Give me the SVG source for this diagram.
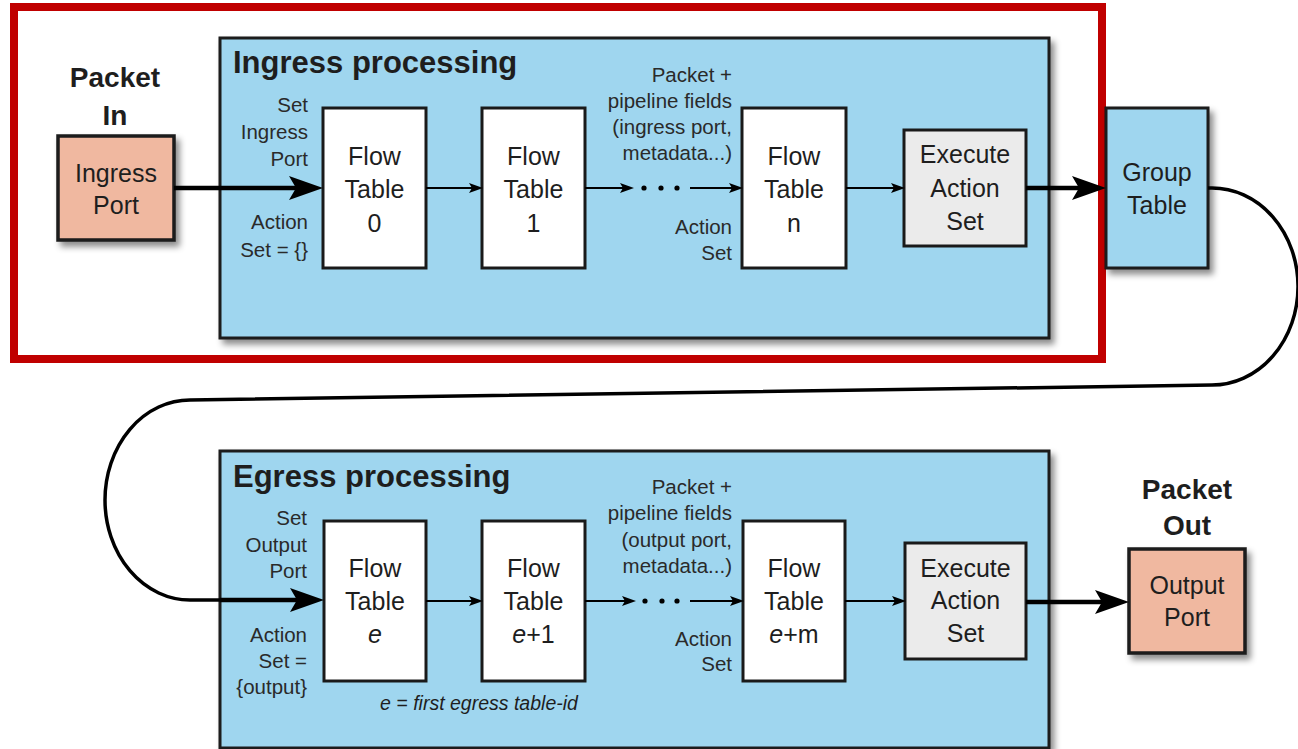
<svg xmlns="http://www.w3.org/2000/svg" width="1298" height="749" viewBox="0 0 1298 749">
<style>
.t{font-family:"Liberation Sans",Arial,sans-serif;fill:#1e1e1e}
.box{font-size:25px;text-anchor:middle}
.lab{font-size:20.5px;text-anchor:end;fill:#2a2a2a}
.title{font-size:31px;font-weight:bold}
.big{font-size:28px;font-weight:bold;text-anchor:middle}
.blue{fill:#9fd6ef;stroke:#1a1a1a;stroke-width:3}
.white{fill:#ffffff;stroke:#1a1a1a;stroke-width:3}
.gray{fill:#ebebeb;stroke:#1a1a1a;stroke-width:3}
.port{fill:#f0b8a0;stroke:#1a1a1a;stroke-width:3.5}
.thick{fill:none;stroke:#000;stroke-width:4.5}
.thin{fill:none;stroke:#000;stroke-width:2}
.curve{fill:none;stroke:#000;stroke-width:3.5}
</style>
<defs>
<filter id="sh" x="-10%" y="-10%" width="130%" height="130%">
<feDropShadow dx="4" dy="5" stdDeviation="3" flood-color="#000" flood-opacity="0.45"/>
</filter>
<marker id="big" markerUnits="userSpaceOnUse" viewBox="0 0 34 26" refX="14" refY="13" markerWidth="34" markerHeight="26" orient="auto">
<path d="M0,1 L34,13 L0,25 L7,13 z" fill="#000"/>
</marker>
<marker id="small" markerUnits="userSpaceOnUse" viewBox="0 0 14 10" refX="5" refY="5" markerWidth="14" markerHeight="10" orient="auto">
<path d="M0,0 L14,5 L0,10 L3,5 z" fill="#000"/>
</marker>
</defs>
<rect x="0" y="0" width="1298" height="749" fill="#fff"/>

<!-- red highlight frame -->
<rect id="highlight" x="14" y="7" width="1088" height="352" fill="none" stroke="#c00000" stroke-width="8"/>

<!-- Ingress processing container -->
<g id="ingress">
<rect class="blue" x="220" y="38" width="829" height="300" filter="url(#sh)"/>
<text class="t title" x="233" y="73">Ingress processing</text>
<text class="t lab" x="308" y="112">Set</text>
<text class="t lab" x="308" y="139">Ingress</text>
<text class="t lab" x="308" y="166">Port</text>
<text class="t lab" x="308" y="229">Action</text>
<text class="t lab" x="308" y="257">Set = {}</text>
<text class="t lab" x="732" y="82">Packet +</text>
<text class="t lab" x="732" y="108">pipeline fields</text>
<text class="t lab" x="732" y="134">(ingress port,</text>
<text class="t lab" x="732" y="160">metadata...)</text>
<text class="t lab" x="732" y="234">Action</text>
<text class="t lab" x="732" y="260">Set</text>
</g>

<!-- Egress processing container -->
<g id="egress">
<rect class="blue" x="220" y="451" width="829" height="297" filter="url(#sh)"/>
<text class="t title" x="233" y="487">Egress processing</text>
<text class="t lab" x="307" y="525">Set</text>
<text class="t lab" x="307" y="552">Output</text>
<text class="t lab" x="307" y="578">Port</text>
<text class="t lab" x="307" y="642">Action</text>
<text class="t lab" x="307" y="668">Set =</text>
<text class="t lab" x="307" y="694">{output}</text>
<text class="t lab" x="732" y="494">Packet +</text>
<text class="t lab" x="732" y="520">pipeline fields</text>
<text class="t lab" x="732" y="547">(output port,</text>
<text class="t lab" x="732" y="573">metadata...)</text>
<text class="t lab" x="732" y="646">Action</text>
<text class="t lab" x="732" y="671">Set</text>
<text class="t" x="479" y="710" text-anchor="middle" font-size="19.5" font-style="italic">e = first egress table-id</text>
</g>

<!-- Packet In / Ingress Port -->
<g id="packet-in">
<text class="t big" x="115" y="87">Packet</text>
<text class="t big" x="115" y="125">In</text>
<rect class="port" x="58" y="136" width="116" height="104" filter="url(#sh)"/>
<text class="t box" x="116" y="182">Ingress</text>
<text class="t box" x="116" y="214">Port</text>
</g>

<g id="ft0">
<rect class="white" x="323" y="108" width="103" height="160"/>
<text class="t box" x="374.5" y="165">Flow</text>
<text class="t box" x="374.5" y="198">Table</text>
<text class="t box" x="374.5" y="232">0</text>
</g>
<g id="ft1">
<rect class="white" x="482" y="108" width="103" height="160"/>
<text class="t box" x="533.5" y="165">Flow</text>
<text class="t box" x="533.5" y="198">Table</text>
<text class="t box" x="533.5" y="232">1</text>
</g>
<g id="ftn">
<rect class="white" x="742" y="108" width="104" height="160"/>
<text class="t box" x="794" y="165">Flow</text>
<text class="t box" x="794" y="198">Table</text>
<text class="t box" x="794" y="232">n</text>
</g>
<g id="exec-in">
<rect class="gray" x="904" y="130" width="122" height="116"/>
<text class="t box" x="965" y="163">Execute</text>
<text class="t box" x="965" y="197">Action</text>
<text class="t box" x="965" y="230">Set</text>
</g>
<g id="group-table">
<rect class="blue" x="1106" y="108" width="102" height="160" filter="url(#sh)"/>
<text class="t box" x="1157" y="181">Group</text>
<text class="t box" x="1157" y="214">Table</text>
</g>

<g id="fte">
<rect class="white" x="324" y="521" width="102" height="160"/>
<text class="t box" x="375" y="577">Flow</text>
<text class="t box" x="375" y="610">Table</text>
<text class="t box" x="375" y="643" font-style="italic">e</text>
</g>
<g id="fte1">
<rect class="white" x="482" y="521" width="103" height="160"/>
<text class="t box" x="533.5" y="577">Flow</text>
<text class="t box" x="533.5" y="610">Table</text>
<text class="t box" x="533.5" y="643"><tspan font-style="italic">e</tspan>+1</text>
</g>
<g id="ftem">
<rect class="white" x="743" y="521" width="102" height="160"/>
<text class="t box" x="794" y="577">Flow</text>
<text class="t box" x="794" y="610">Table</text>
<text class="t box" x="794" y="643"><tspan font-style="italic">e</tspan>+m</text>
</g>
<g id="exec-out">
<rect class="gray" x="905" y="543" width="121" height="116"/>
<text class="t box" x="965.5" y="577">Execute</text>
<text class="t box" x="965.5" y="609">Action</text>
<text class="t box" x="965.5" y="642">Set</text>
</g>
<g id="packet-out">
<text class="t big" x="1187" y="499">Packet</text>
<text class="t big" x="1187" y="535">Out</text>
<rect class="port" x="1129" y="549" width="116" height="104" filter="url(#sh)"/>
<text class="t box" x="1187" y="594">Output</text>
<text class="t box" x="1187" y="626">Port</text>
</g>

<!-- connectors -->
<g id="connectors">
<line class="thick" x1="174" y1="188" x2="303" y2="188" marker-end="url(#big)"/>
<line class="thin" x1="426" y1="188" x2="474" y2="188" marker-end="url(#small)"/>
<line class="thin" x1="585" y1="188" x2="625" y2="188" marker-end="url(#small)"/>
<circle cx="644" cy="188" r="2.6"/><circle cx="661" cy="188" r="2.6"/><circle cx="677" cy="188" r="2.6"/>
<line class="thin" x1="690" y1="188" x2="734" y2="188" marker-end="url(#small)"/>
<line class="thin" x1="846" y1="188" x2="896" y2="188" marker-end="url(#small)"/>
<line class="thick" x1="1026" y1="188" x2="1086" y2="188" marker-end="url(#big)"/>
<path class="curve" d="M1208,188 L1212,188 A86,98.5 0 0 1 1212,385 L190,400 A85,100 0 0 0 190,600 L222,600"/>
<line class="thick" x1="220" y1="600" x2="304" y2="600" marker-end="url(#big)"/>
<line class="thin" x1="426" y1="601" x2="474" y2="601" marker-end="url(#small)"/>
<line class="thin" x1="585" y1="601" x2="627" y2="601" marker-end="url(#small)"/>
<circle cx="645" cy="601" r="2.6"/><circle cx="662" cy="601" r="2.6"/><circle cx="677" cy="601" r="2.6"/>
<line class="thin" x1="690" y1="601" x2="735" y2="601" marker-end="url(#small)"/>
<line class="thin" x1="845" y1="601" x2="897" y2="601" marker-end="url(#small)"/>
<line class="thick" x1="1026" y1="602" x2="1109" y2="602" marker-end="url(#big)"/>
</g>
</svg>
